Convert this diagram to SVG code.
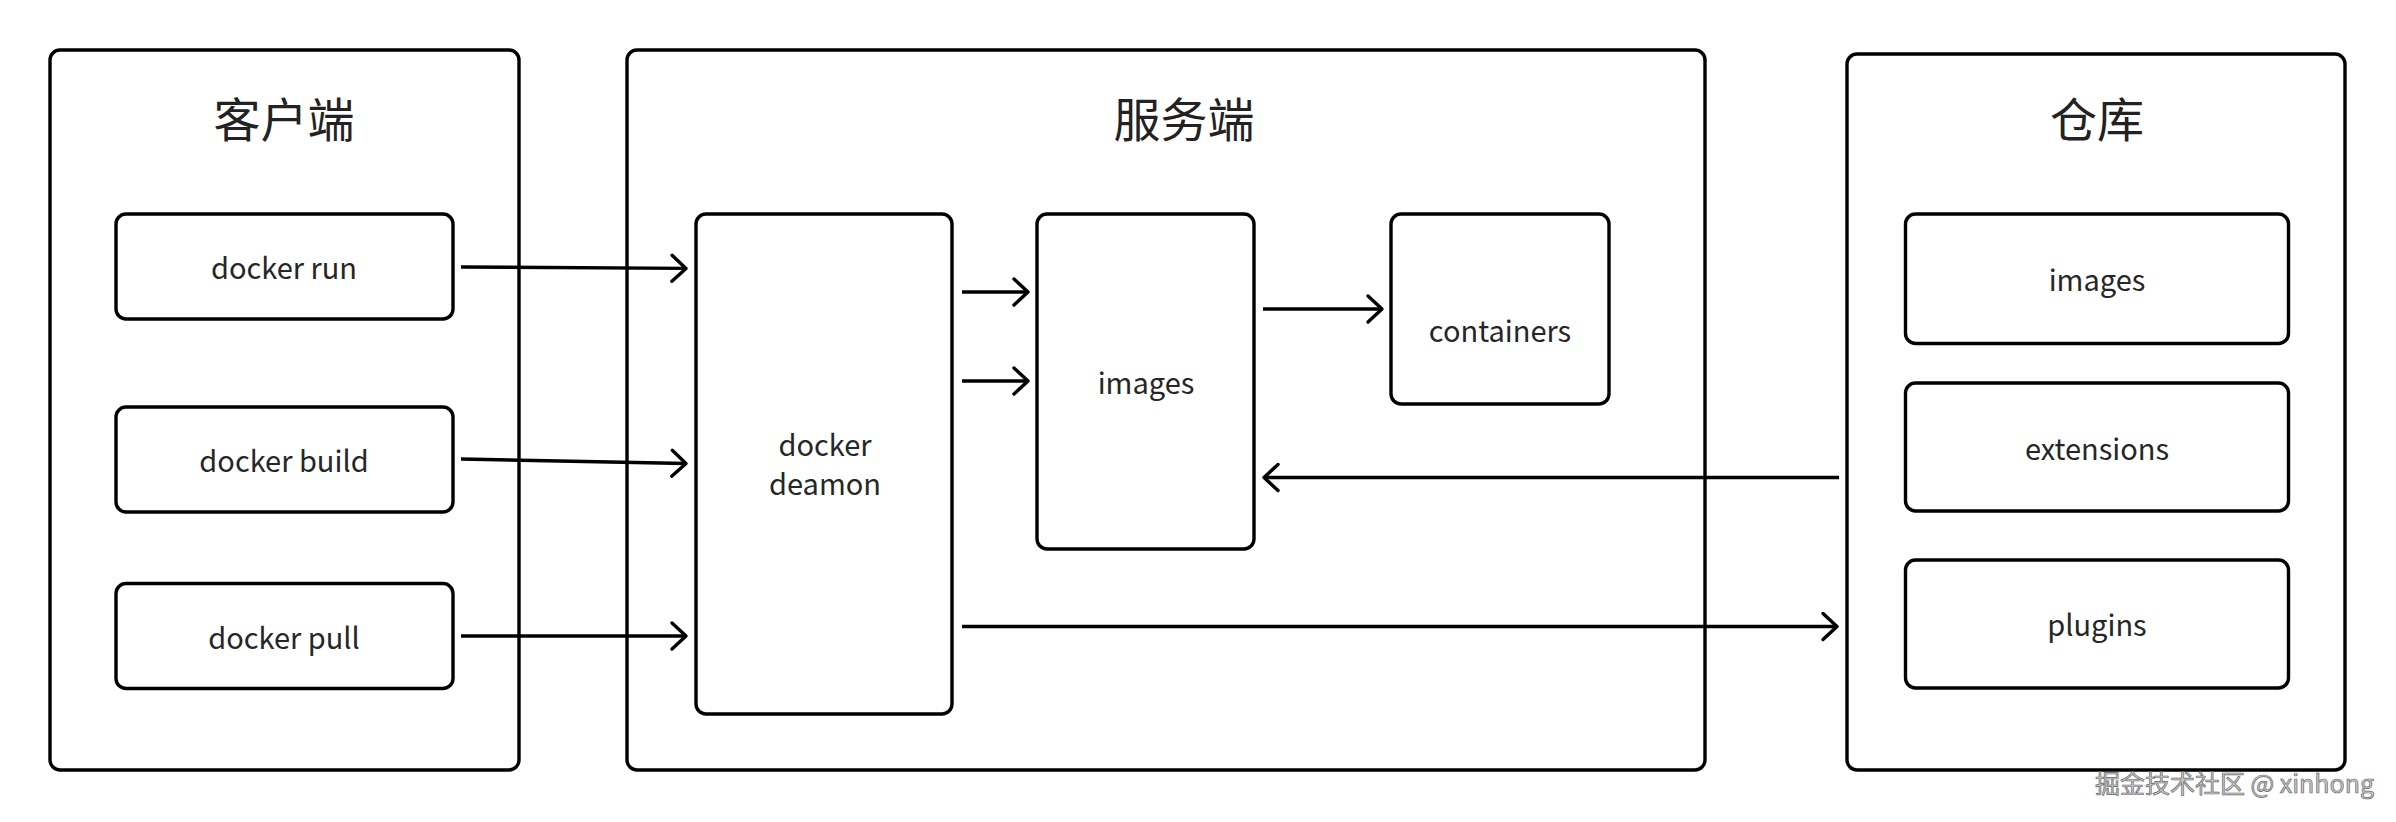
<svg xmlns="http://www.w3.org/2000/svg" width="2396" height="822" viewBox="0 0 2396 822">
<defs>
<style>
.box{fill:#fff;stroke:#000;stroke-width:3.4}
.title{font-family:"Noto Sans CJK SC","Noto Sans",sans-serif;font-size:47px;fill:#222;text-anchor:middle}
.lbl{font-family:"Noto Sans CJK SC","Noto Sans",sans-serif;font-size:29px;fill:#262626;text-anchor:middle}
.conn{fill:none;stroke:#000;stroke-width:3.4;marker-end:url(#arr)}
.wm{font-family:"Noto Sans CJK SC","Noto Sans",sans-serif;font-size:25px;fill:#c9c9c9;stroke:#6a6a6a;stroke-width:0.7;text-anchor:end}
</style>
<marker id="arr" viewBox="-18 -16 22 32" markerWidth="22" markerHeight="32" refX="0" refY="0" orient="auto" markerUnits="userSpaceOnUse">
<path d="M-14,-13 L0,0 L-14,13" fill="none" stroke="#000" stroke-width="3.4" stroke-linecap="round" stroke-linejoin="round"/>
</marker>
</defs>
<rect width="2396" height="822" fill="#fff"/>

<g id="client">
<rect class="box" x="50" y="50" width="469" height="720" rx="10"/>
<text class="title" x="284" y="137">客户端</text>
</g>
<g id="server">
<rect class="box" x="627" y="50" width="1078" height="720" rx="10"/>
<text class="title" x="1184" y="137">服务端</text>
</g>
<g id="repo">
<rect class="box" x="1847" y="54" width="498" height="716" rx="10"/>
<text class="title" x="2097" y="137">仓库</text>
</g>

<g id="docker-run">
<rect class="box" x="116" y="214" width="337" height="105" rx="10"/>
<text class="lbl" x="284" y="279">docker run</text>
</g>
<g id="docker-build">
<rect class="box" x="116" y="407" width="337" height="105" rx="10"/>
<text class="lbl" x="284" y="472">docker build</text>
</g>
<g id="docker-pull">
<rect class="box" x="116" y="583.5" width="337" height="105" rx="10"/>
<text class="lbl" x="284" y="649">docker pull</text>
</g>

<g id="docker-deamon">
<rect class="box" x="696" y="214" width="256" height="500" rx="10"/>
<text class="lbl" x="825" y="456">docker</text>
<text class="lbl" x="825" y="495">deamon</text>
</g>
<g id="server-images">
<rect class="box" x="1037" y="214" width="217" height="335" rx="10"/>
<text class="lbl" x="1146" y="394">images</text>
</g>
<g id="containers">
<rect class="box" x="1391" y="214" width="218" height="190" rx="10"/>
<text class="lbl" x="1500" y="342">containers</text>
</g>

<g id="repo-images">
<rect class="box" x="1905.5" y="214" width="383" height="129.5" rx="10"/>
<text class="lbl" x="2097" y="291">images</text>
</g>
<g id="extensions">
<rect class="box" x="1905.5" y="383" width="383" height="128" rx="10"/>
<text class="lbl" x="2097" y="460">extensions</text>
</g>
<g id="plugins">
<rect class="box" x="1905.5" y="560" width="383" height="128" rx="10"/>
<text class="lbl" x="2097" y="636">plugins</text>
</g>

<g id="connectors">
<path class="conn" d="M461,267 L686,268.4"/>
<path class="conn" d="M461,459 L686,463.5"/>
<path class="conn" d="M461,636 L686,636"/>
<path class="conn" d="M962,292 L1028,292"/>
<path class="conn" d="M962,381 L1028,381"/>
<path class="conn" d="M1263,309 L1382,309"/>
<path class="conn" d="M1839,477.5 L1264,477.5"/>
<path class="conn" d="M962,626.5 L1837,626.5"/>
</g>

<text class="wm" x="2374" y="793">掘金技术社区 @ xinhong</text>
</svg>
